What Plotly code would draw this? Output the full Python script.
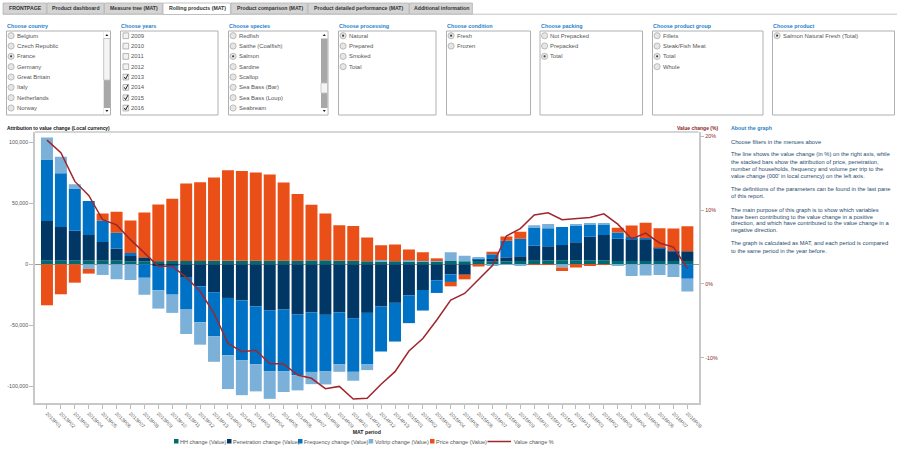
import plotly.graph_objects as go

periods = ['2013P%02d' % i for i in range(1, 14)] + ['2014P%02d' % i for i in range(1, 14)] + \
          ['2015P%02d' % i for i in range(1, 14)] + ['2016P%02d' % i for i in range(1, 9)]

hh_change = [3000, 3000, 3000, 3000, 3000, 3000, 2500, 2500, 2600, 2800, 2700, 2800, 2900, 2900, 2900, 3000,
             3000, 3000, 3000, 3200, 3300, 3000, 2900, 2500, 2500, 2500, 2500, 2200, 2600, 2700, 2500, 3300,
             2200, 2400, 2700, 3000, 3200, 3300, 3300, 3300, 3300, 2700, 2700, 2700, 2700, 2700, 2700]
penetration = [32400, 27500, 24500, 21000, 15200, 10000, 4300, 3200, -1400, -1000, -11000, -18000, -22800,
               -27500, -29400, -34300, -37500, -37000, -40800, -39200, -41300, -39200, -44000, -39700, -34500,
               -31500, -25300, -21000, -13000, -8200, -8000, 300, 2200, 3300, 3800, 12200, 11500, 12500, 14700,
               19300, 20600, 18200, 18000, 17300, 10600, 7900, 7900]
frequency = [50300, 44000, 34500, 27700, 17700, 12800, 2400, -11000, -19800, -23800, -26000, -29400, -35900,
             -46800, -49200, -47300, -49800, -50600, -49800, -48800, -46300, -42400, -43900, -42200, -36800,
             -31300, -22800, -16800, -10400, -6200, -300, 1000, 3800, 13600, 14400, 15000, 14700, 14700, 13600,
             9800, 8700, 5200, 1600, 1400, 200, 200, -11700]
voltrip = [18000, 13500, 3500, -3800, -8700, -12200, -12800, -13900, -15000, -14900, -20000, -18300, -21000,
           -27700, -28400, -22300, -22700, -16800, -12500, -10000, -10600, -6300, -7300, -4600, 1000, -500, 800,
           600, 900, 7100, 4500, 1300, -1400, -300, -1100, 1800, 3600, -2700, 1400, 600, 1100, -1000, -9500,
           -9200, -8700, -10300, -10600]
price = [-33500, -24500, -15000, -3800, 5700, 17200, 26700, 36700, 46400, 50800, 63300, 64400, 68000, 74000,
         73500, 72000, 70400, 63900, 54400, 45500, 38300, 29000, 28400, 19500, 12000, 13800, 8900, 7000, 1400,
         -3600, -4000, -1800, 2100, 3500, 5800, -300, -400, -2700, -2700, -900, -500, 3900, 9500, 12600, 16000,
         18500, 20500]
value_change = [19.5, 17.8, 13.9, 12.0, 8.7, 8.0, 6.0, 4.2, 2.4, 2.4, 0.9, -1.0, -4.0, -8.05, -9.2, -9.0, -10.8,
                -10.85, -12.35, -12.8, -14.2, -13.9, -15.6, -15.5, -13.6, -11.9, -9.1, -7.4, -4.9, -2.2, -1.3,
                0.6, 2.5, 6.5, 7.5, 9.35, 9.65, 8.7, 8.8, 9.0, 9.5, 8.1, 6.1, 6.9, 5.55, 5.0, 2.1]

series_names = ['HH change (Value)', 'Penetration change (Value)', 'Frequency change (Value)',
                'Voltrip change (Value)', 'Price change (Value)']
series_colors = ['#006a72', '#003764', '#0072c6', '#7bb0d8', '#ea4f17']

left_ticks = [100000, 50000, 0, -50000, -100000]
left_labels = ['100,000', '50,000', '0', '-50,000', '-100,000']
right_ticks = [20, 10, 0, -10]
right_labels = ['20%', '10%', '0%', '-10%']

tabs = ['FRONTPAGE', 'Product dashboard', 'Measure tree (MAT)', 'Rolling products (MAT)', 'Product comparison (MAT)',
        'Product detailed performance (MAT)', 'Additional information']
tab_edges = [3, 47, 104.5, 163, 231, 308, 409.5, 473]

# title, box left, box right, options, index of checked options
menus = [
    ('Choose country', 6.5, 110.5, ['Belgium', 'Czech Republic', 'France', 'Germany', 'Great Britain', 'Italy', 'Netherlands', 'Norway'], [2]),
    ('Choose years', 120.5, 218, ['2009', '2010', '2011', '2012', '2013', '2014', '2015', '2016'], [4, 5, 6, 7]),
    ('Choose species', 228.5, 328, ['Redfish', 'Saithe (Coalfish)', 'Salmon', 'Sardine', 'Scallop', 'Sea Bass (Bar)', 'Sea Bass (Loup)', 'Seabream'], [2]),
    ('Choose processing', 338.5, 436, ['Natural', 'Prepared', 'Smoked', 'Total'], [0]),
    ('Choose condition', 446.5, 530.5, ['Fresh', 'Frozen'], [0]),
    ('Choose packing', 540, 642.5, ['Not Prepacked', 'Prepacked', 'Total'], [2]),
    ('Choose product group', 652.5, 763, ['Fillets', 'Steak/Fish Meat', 'Total', 'Whole'], [2]),
    ('Choose product', 772.5, 894.5, ['Salmon Natural Fresh (Total)'], [0]),
]

about_lines = [
    (141.7, 'Choose filters in the menues above'),
    (154.3, 'The line shows the value change (in %) on the right axis, while'),
    (161.5, 'the stacked bars show the attribution of price, penetration,'),
    (168.6, 'number of households, frequency and volume per trip to the'),
    (175.8, "value change (000' in local currency) on the left axis."),
    (188.6, 'The definitions of the parameters can be found in the last pane'),
    (195.9, 'of this report.'),
    (210, 'The main purpose of this graph is to show which variables'),
    (216.8, 'have been contributing to the value change in a positive'),
    (223.4, 'direction, and which have contributed to the value change in a'),
    (230.4, 'negative direction.'),
    (243.4, 'The graph is calculated as MAT, and each period is compared'),
    (250.6, 'to the same period in the year before.'),
]

W, H = 900, 449
FONT = 'Liberation Sans'
BLUE = '#1f7fc9'
RED = '#8b1f24'


def px(x):
    return x / W


def py(y):
    return 1 - y / H


shapes = []
notes = []


def label(x, y, text, size=5.9, color='#555555', anchor='left', bold=False):
    notes.append(dict(x=px(x), y=py(y), xref='paper', yref='paper', text='<b>%s</b>' % text if bold else text,
                      showarrow=False, xanchor=anchor, yanchor='middle', align=anchor, borderpad=0, borderwidth=0,
                      font=dict(family=FONT, size=size, color=color)))


def rect(x0, y0, x1, y1, fill, line='rgba(0,0,0,0)', width=0.8):
    shapes.append(dict(type='rect', xref='paper', yref='paper', x0=px(x0), x1=px(x1), y0=py(y0), y1=py(y1),
                       fillcolor=fill, line=dict(color=line, width=width)))


def circle(cx, cy, r, fill, line='rgba(0,0,0,0)'):
    shapes.append(dict(type='circle', xref='paper', yref='paper', x0=px(cx - r), x1=px(cx + r), y0=py(cy + r),
                       y1=py(cy - r), fillcolor=fill, line=dict(color=line, width=0.7)))


def segment(x0, y0, x1, y1, color, width=1):
    shapes.append(dict(type='line', xref='paper', yref='paper', x0=px(x0), x1=px(x1), y0=py(y0), y1=py(y1),
                       line=dict(color=color, width=width)))


# tab strip
segment(3, 14.2, 897, 14.2, '#c4c4c4', 1)
for i, name in enumerate(tabs):
    active = name.startswith('Rolling')
    rect(tab_edges[i], 3, tab_edges[i + 1] - 0.6, 14.5 if active else 14, '#ffffff' if active else '#d4d4d4', '#b5b5b5')
    label((tab_edges[i] + tab_edges[i + 1]) / 2, 8.4, name, 5.2, '#333333', 'center', True)

# filter boxes
for title, x0, x1, options, checked in menus:
    label(x0 + 0.5, 26, title, 5.4, BLUE, 'left', True)
    rect(x0, 31, x1, 115, '#ffffff', '#b0b0b0', 1)
    for j, opt in enumerate(options):
        y = 35.7 + j * 10.33
        if title == 'Choose years':
            rect(x0 + 2.5, y - 2.8, x0 + 8.2, y + 2.9, '#f2f2f2', '#a5a5a5')
            if j in checked:
                shapes.append(dict(type='path', xref='paper', yref='paper', line=dict(color='#222222', width=1),
                                   path='M %f %f L %f %f L %f %f' % (px(x0 + 3.8), py(y), px(x0 + 5.1), py(y + 2),
                                                                     px(x0 + 7.5), py(y - 2.6))))
        else:
            circle(x0 + 4.6, y, 3.1, '#e6e6e6', '#a5a5a5')
            if j in checked:
                circle(x0 + 4.6, y, 1.1, '#444444')
        label(x0 + 10.4, y, opt)

# scrollbars of the two long lists
for sx0, sx1, t0, t1 in [(103.7, 110, 38.5, 80), (321, 327.5, 83, 93)]:
    rect(sx0, 31.6, sx1, 114.4, '#a8a8a8')
    rect(sx0, 31.6, sx1, 38.5, '#ffffff')
    rect(sx0, 108, sx1, 114.4, '#ffffff')
    rect(sx0, t0, sx1, t1, '#f4f4f4', '#c0c0c0')
    mid = (sx0 + sx1) / 2
    for ya, yb in [(34, 36), (112, 110)]:
        shapes.append(dict(type='path', xref='paper', yref='paper', fillcolor='#222222', line=dict(width=0),
                           path='M %f %f L %f %f L %f %f Z' % (px(mid - 1.5), py(yb), px(mid + 1.5), py(yb), px(mid), py(ya))))

# headings above the chart and help text
label(7, 128, 'Attribution to value change (Local currency)', 4.9, '#111111', 'left', True)
label(718, 128, 'Value change (%)', 5, RED, 'right', True)
label(730.5, 128, 'About the graph', 5.3, BLUE, 'left', True)
for y, line in about_lines:
    label(730.5, y, line, 5.75, '#274b6d')

# legend row, placed by hand to keep the tight spacing
legend_x = [174, 227, 298, 368.7, 430]
for x, name, color in zip(legend_x, series_names, series_colors):
    rect(x, 439, x + 4.5, 443.5, color)
    label(x + 6, 441.5, name, 5.5)
segment(487.5, 441.5, 511, 441.5, '#a0262e', 1.5)
label(513.5, 441.5, 'Value change %', 5.5)

# top edge of the plot frame
segment(35, 132, 698.5, 132, '#c8c8c8', 1.5)

fig = go.Figure()
for name, vals, color in zip(series_names, [hh_change, penetration, frequency, voltrip, price], series_colors):
    fig.add_trace(go.Bar(x=periods, y=vals, name=name, marker=dict(color=color, line=dict(width=0))))

fig.add_trace(go.Scatter(x=periods, y=value_change, name='Value change %', mode='lines', yaxis='y2',
                         line=dict(color='#a0262e', width=1.5)))

fig.update_layout(
    width=W, height=H, margin=dict(l=0, r=0, t=0, b=0), paper_bgcolor='white', plot_bgcolor='white',
    barmode='relative', bargap=0.14, showlegend=False, shapes=shapes, annotations=notes,
    font=dict(family=FONT, size=6, color='#555555'),
    xaxis=dict(domain=[px(35), px(698.5)], range=[-0.86, 46.8], type='category', tickangle=45, ticks='outside',
               ticklen=4, tickcolor='#bbbbbb', tickfont=dict(size=5, color='#666666'), showgrid=False,
               showline=True, linecolor='#c8c8c8', linewidth=1.5, automargin=False,
               title=dict(text='<b>MAT period</b>', font=dict(size=5.2, color='#222222'), standoff=0)),
    yaxis=dict(domain=[py(403), py(132)], range=[-113400, 108200], tickvals=left_ticks, ticktext=left_labels,
               ticks='outside', ticklen=4, tickcolor='#bbbbbb', tickfont=dict(size=5.3, color='#555555'),
               showgrid=False, zeroline=True, zerolinecolor='#9a9a9a', zerolinewidth=1,
               showline=True, linecolor='#c8c8c8', linewidth=1.5, automargin=False),
    yaxis2=dict(overlaying='y', side='right', anchor='x', range=[-16.15, 20.6], tickvals=right_ticks,
                ticktext=right_labels, ticks='outside', ticklen=4, tickcolor='#bbbbbb',
                tickfont=dict(size=5.3, color=RED), showgrid=False, zeroline=False,
                showline=True, linecolor='#c8c8c8', linewidth=1.5, automargin=False),
)

fig.write_html("out.html", config=dict(displayModeBar=False), post_script="document.body.style.margin='0';")
